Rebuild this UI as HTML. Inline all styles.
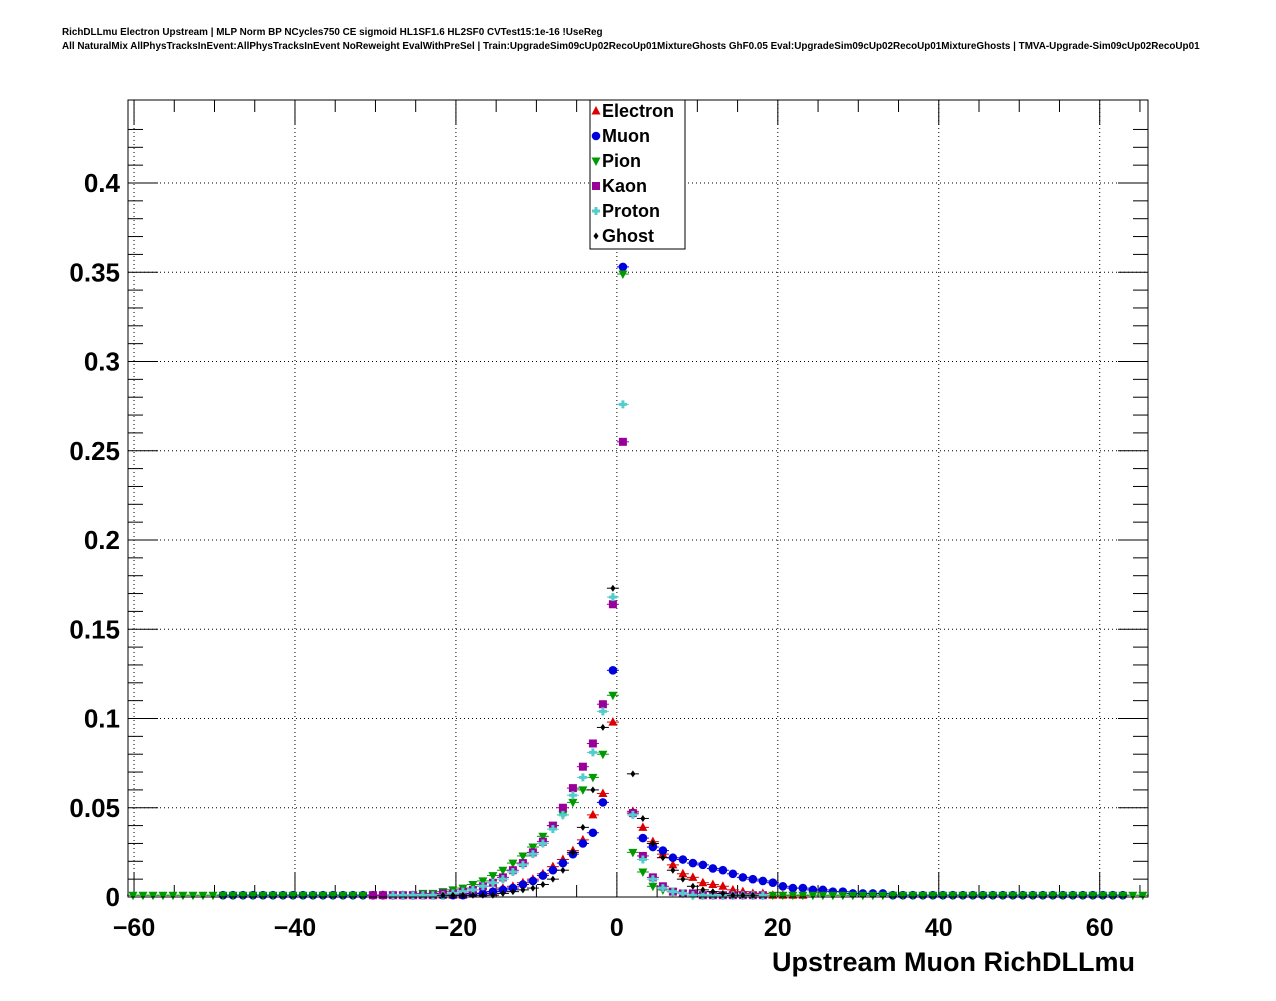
<!DOCTYPE html>
<html><head><meta charset="utf-8"><style>
body{margin:0;background:#fff;}
svg text{font-family:"Liberation Sans",sans-serif;}
</style></head><body>
<svg id="c" width="1276" height="996" xmlns="http://www.w3.org/2000/svg">
<text x="62" y="35" font-size="9.9" font-weight="bold">RichDLLmu Electron Upstream | MLP Norm BP NCycles750 CE sigmoid HL1SF1.6 HL2SF0 CVTest15:1e-16 !UseReg</text>
<text x="62" y="49" font-size="9.9" font-weight="bold">All NaturalMix AllPhysTracksInEvent:AllPhysTracksInEvent NoReweight EvalWithPreSel | Train:UpgradeSim09cUp02RecoUp01MixtureGhosts GhF0.05 Eval:UpgradeSim09cUp02RecoUp01MixtureGhosts | TMVA-Upgrade-Sim09cUp02RecoUp01</text>
<g id="grid"></g><g id="axes"></g><g id="marks"></g>
<rect x="128" y="100" width="1020" height="797" fill="none" stroke="#000" stroke-width="1"/>
<text x="1135" y="971" font-size="27" font-weight="bold" text-anchor="end">Upstream Muon RichDLLmu</text>
<g id="legend"></g>
</svg>
<script>
const xTicks=[-60,-40,-20,0,20,40,60];
const yTicks=[0,0.05,0.1,0.15,0.2,0.25,0.3,0.35,0.4];
const yTickLabels=["0","0.05","0.1","0.15","0.2","0.25","0.3","0.35","0.4"];
const binStart=-60.13, binWidth=1.2424, nBins=102;
const seriesNames=["Electron","Muon","Pion","Kaon","Proton","Ghost"];
const seriesColors=["#dd0000","#0000dd","#009900","#990099","#55cccc","#000000"];
// values start at given bin index
const electronStart=25;
const electronVals=[.001,.001,.001,.001,.001,.001,.001,.001,.001,.002,.002,.003,.005,.006,.008,.010,.013,.017,.021,.026,.032,.046,.058,.098,0.6,.048,.039,.031,.024,.018,.013,.011,.008,.007,.006,.004,.003,.002,.002,.001,.001,.001,.001];
const muonStart=9;
const muonVals=[.001,.001,.001,.001,.001,.001,.001,.001,.001,.001,.001,.001,.001,.001,.001,.001,.001,.001,.001,.001,.001,.001,.001,.001,.001,.002,.002,.003,.004,.005,.007,.009,.012,.015,.019,.024,.030,.036,.053,.127,.353,.047,.033,.028,.026,.022,.021,.019,.018,.016,.015,.013,.011,.010,.009,.008,.006,.005,.005,.004,.004,.003,.003,.002,.002,.002,.002,.001,.001,.001,.001,.001,.001,.001,.001,.001,.001,.001,.001,.001,.001,.001,.001,.001,.001,.001,.001,.001,.001,.001,.001];
const pionStart=0;
const pionVals=[.001,.001,.001,.001,.001,.001,.001,.001,.001,.001,.001,.001,.001,.001,.001,.001,.001,.001,.001,.001,.001,.001,.001,.001,.001,.001,.001,.001,.001,.002,.002,.003,.004,.005,.007,.009,.012,.015,.019,.023,.028,.034,.040,.046,.053,.060,.067,.080,.113,.349,.025,.014,.006,.004,.003,.002,.001,.001,.001,.001,.001,.001,.001,.001,.001,.001,.001,.001,.001,.001,.001,.001,.001,.001,.001,.001,.001,.001,.001,.001,.001,.001,.001,.001,.001,.001,.001,.001,.001,.001,.001,.001,.001,.001,.001,.001,.001,.001,.001,.001,.001,.001];
const kaonStart=24;
const kaonVals=[.001,.001,.001,.001,.001,.001,.001,.002,.002,.003,.004,.006,.008,.011,.015,.019,.025,.031,.040,.050,.061,.073,.086,.108,.164,.255,.047,.023,.011,.006,.003,.002,.002,.001,.001,.001,.001,.001,.001,.001];
const protonStart=26;
const protonVals=[.001,.001,.001,.001,.001,.001,.002,.003,.004,.006,.008,.010,.014,.018,.024,.030,.038,.046,.057,.067,.081,.104,.168,.276,.046,.021,.010,.005,.003,.002,.001,.001,.001,.001,.001,.001,.001,.001];
const ghostStart=31;
const ghostVals=[.001,.001,.001,.001,.001,.001,.002,.003,.004,.005,.007,.010,.015,.025,.039,.060,.095,.173,0.6,.069,.044,.030,.022,.015,.010,.006,.004,.003,.002,.001,.001,.001];
const allStarts=[electronStart,muonStart,pionStart,kaonStart,protonStart,ghostStart];
const allVals=[electronVals,muonVals,pionVals,kaonVals,protonVals,ghostVals];

const X0=128,X1=1148,Y0=897,Y1=100,xmin=-60.75,xmax=66,ymin=0,ymax=0.4465;
const sx=v=>X0+(v-xmin)/(xmax-xmin)*(X1-X0);
const sy=v=>Y0-(v-ymin)/(ymax-ymin)*(Y0-Y1);
const NS="http://www.w3.org/2000/svg";
function mk(tag,parent){const e=document.createElementNS(NS,tag);document.getElementById(parent).appendChild(e);return e;}
xTicks.forEach(t=>{
 const l=mk('line','grid');l.setAttribute('x1',sx(t));l.setAttribute('x2',sx(t));l.setAttribute('y1',Y1);l.setAttribute('y2',Y0);
 l.setAttribute('stroke','#000');l.setAttribute('stroke-dasharray','1,3');
 
 
 const tx=mk('text','axes');tx.textContent=t<0?'\u2212'+(-t):String(t);
 tx.setAttribute('x',sx(t));tx.setAttribute('y',936);tx.setAttribute('font-size','25');tx.setAttribute('font-weight','bold');tx.setAttribute('text-anchor','middle');
 
 
});
for(let v=-60;v<=65;v+=5){
 const big=v%20===0;
 [[Y0,Y0-(big?25:12)],[Y1,Y1+(big?25:12)]].forEach(p=>{const l=mk('line','axes');l.setAttribute('x1',sx(v));l.setAttribute('x2',sx(v));l.setAttribute('y1',p[0]);l.setAttribute('y2',p[1]);l.setAttribute('stroke','#000');
 
 });
}
yTicks.forEach((t,i)=>{
 if(t>0){const l=mk('line','grid');l.setAttribute('x1',X0);l.setAttribute('x2',X1);l.setAttribute('y1',sy(t));l.setAttribute('y2',sy(t));
 l.setAttribute('stroke','#000');l.setAttribute('stroke-dasharray','1,3');
 
 }
 const tx=mk('text','axes');tx.textContent=yTickLabels[i];
 tx.setAttribute('x',120);tx.setAttribute('y',sy(t)+9);tx.setAttribute('font-size','26');tx.setAttribute('font-weight','bold');tx.setAttribute('text-anchor','end');
 
 
});
for(let v=0;v<=0.44;v+=0.01){
 const big=Math.round(v*100)%5===0;
 [[X0,X0+(big?30:15)],[X1,X1-(big?30:15)]].forEach(p=>{const l=mk('line','axes');l.setAttribute('x1',p[0]);l.setAttribute('x2',p[1]);l.setAttribute('y1',sy(v));l.setAttribute('y2',sy(v));l.setAttribute('stroke','#000');
 
 });
}
function marker(g,k,x,y,c){
 let e;
 if(k===0){e=document.createElementNS(NS,'polygon');e.setAttribute('points',`${x},${y-5} ${x-4.5},${y+3.5} ${x+4.5},${y+3.5}`);}
 else if(k===1){e=document.createElementNS(NS,'circle');e.setAttribute('cx',x);e.setAttribute('cy',y);e.setAttribute('r',4.3);}
 else if(k===2){e=document.createElementNS(NS,'polygon');e.setAttribute('points',`${x},${y+5} ${x-4.5},${y-3.5} ${x+4.5},${y-3.5}`);}
 else if(k===3){e=document.createElementNS(NS,'rect');e.setAttribute('x',x-4);e.setAttribute('y',y-4);e.setAttribute('width',8);e.setAttribute('height',8);}
 else if(k===4){e=document.createElementNS(NS,'path');e.setAttribute('d',`M${x-4},${y-1.5}h2.5v-2.5h3v2.5h2.5v3h-2.5v2.5h-3v-2.5h-2.5z`);}
 else {e=document.createElementNS(NS,'polygon');e.setAttribute('points',`${x},${y-3.5} ${x-2.5},${y} ${x},${y+3.5} ${x+2.5},${y}`);}
 e.setAttribute('fill',c);g.appendChild(e);return e;
}
const marks=document.getElementById('marks');
allVals.forEach((vals,k)=>{
 const g=document.createElementNS(NS,'g');marks.appendChild(g);
 
 
 vals.forEach((v,j)=>{
  const idx=allStarts[k]+j;const cx=binStart+idx*binWidth;
  if(v>ymax)return;
  const x=sx(cx),y=sy(v);
  const l=document.createElementNS(NS,'line');l.setAttribute('x1',x-6);l.setAttribute('x2',x+6);l.setAttribute('y1',y);l.setAttribute('y2',y);l.setAttribute('stroke',seriesColors[k]);g.appendChild(l);
  const m=marker(g,k,x,y,seriesColors[k]);
  
  
 });
});
const lg=document.getElementById('legend');
const box=document.createElementNS(NS,'rect');box.setAttribute('x',590);box.setAttribute('y',100);box.setAttribute('width',95);box.setAttribute('height',149);box.setAttribute('fill','#fff');box.setAttribute('stroke','#000');lg.appendChild(box);
seriesNames.forEach((n,k)=>{
 const g=document.createElementNS(NS,'g');lg.appendChild(g);
 
 
 const y=111+k*25;
 marker(g,k,596,y,seriesColors[k]);
 const t=document.createElementNS(NS,'text');t.textContent=n;t.setAttribute('x',602);t.setAttribute('y',y+6);t.setAttribute('font-size','18');t.setAttribute('font-weight','bold');g.appendChild(t);
});
</script>
</body></html>
